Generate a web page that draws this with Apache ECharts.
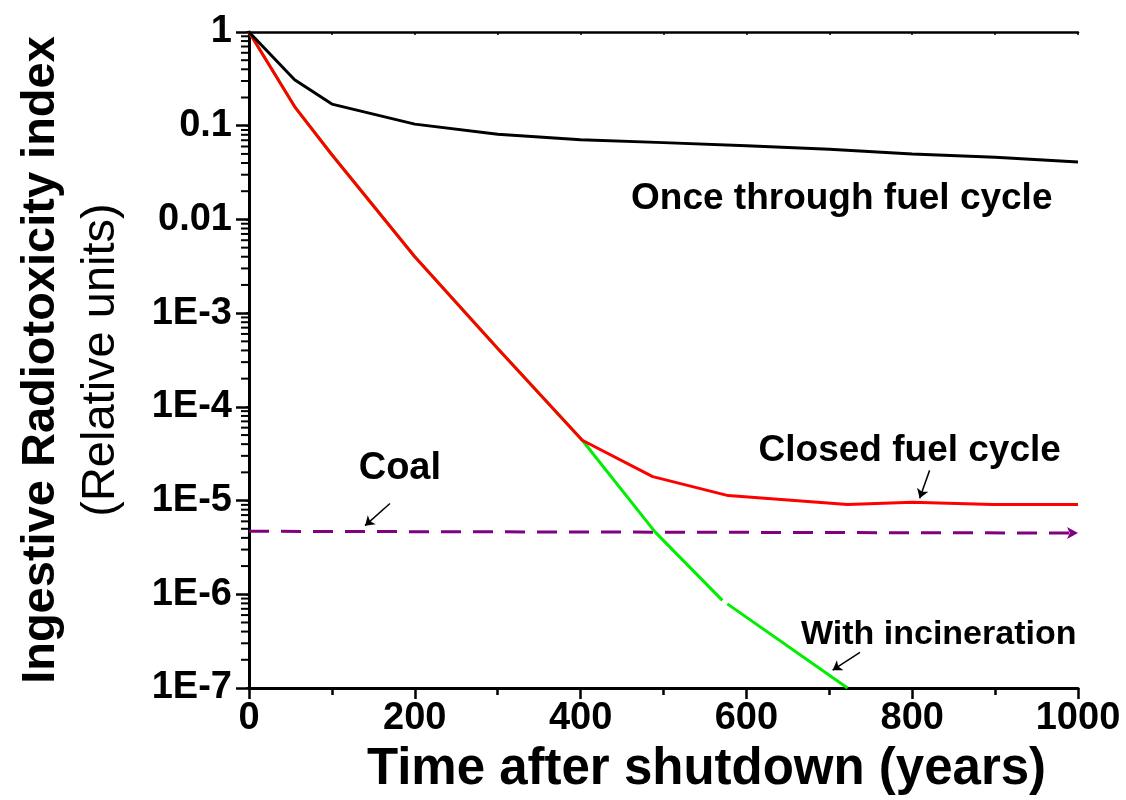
<!DOCTYPE html>
<html>
<head>
<meta charset="utf-8">
<script src="https://cdn.jsdelivr.net/npm/echarts@6/dist/echarts.min.js"></script>
<style>
  html, body { margin: 0; padding: 0; background: #fff; }
  #chart { width: 1126px; height: 800px; }
</style>
</head>
<body>
<div id="chart"></div>
<script>
// values: [years, relative radiotoxicity]
const onceThrough = [[0, 1], [55, 0.31], [100, 0.17], [200, 0.104], [300, 0.081], [400, 0.071], [500, 0.066], [600, 0.061], [700, 0.056], [800, 0.05], [900, 0.046], [1000, 0.041]];
const closedCycle = [[0, 1], [55, 0.16], [100, 0.049], [200, 0.004], [300, 4.2e-4], [402, 4.4e-5], [487, 1.8e-5], [578, 1.13e-5], [722, 9.1e-6], [800, 9.6e-6], [897, 9.1e-6], [1000, 9.1e-6]];
const incineration = [[0, 1], [55, 0.16], [100, 0.049], [200, 0.004], [300, 4.2e-4], [402, 4.4e-5], [490, 4.6e-6], [571, 8.6e-7], '-', [577, 7.9e-7], [722, 1e-7]];
const coal = [[0, 4.7e-6], [1000, 4.5e-6]];

// annotation arrows [from, to]
const coalArrow = [[170, 9.3e-6], [140, 5.4e-6]];
const closedArrow = [[821, 2.1e-5], [809, 1.06e-5]];
const incinArrow = [[737, 2.4e-7], [704, 1.55e-7]];

// text labels, centre positions in data units
const labels = [
  { text: 'Once through fuel cycle', at: [715, 0.0168], size: 37 },
  { text: 'Closed fuel cycle', at: [797, 3.4e-5], size: 37 },
  { text: 'Coal', at: [182, 2.18e-5], size: 38 },
  { text: 'With incineration', at: [832, 3.7e-7], size: 34 }
];

const yMin = 1e-7, yMax = 1;

// log minor ticks 2..9 of each decade
const minorTicks = [];
for (let e = -7; e < 0; e++) {
  for (let m = 2; m <= 9; m++) minorTicks.push(m * Math.pow(10, e));
}

const FONT = '"Liberation Sans", Arial, sans-serif';

function fmtY(v) {
  if (v >= 1) return '1';
  const e = Math.round(Math.log10(v));
  if (e === -1) return '0.1';
  if (e === -2) return '0.01';
  return '1E' + e;
}

const chart = echarts.init(document.getElementById('chart'));

function arrowLine(pair) {
  return [{ coord: pair[0] }, { coord: pair[1] }];
}

const option = {
  animation: false,
  grid: { left: 249, right: 48, top: 32, bottom: 107 },
  xAxis: [{
    type: 'value', min: 0, max: 1000, interval: 200,
    name: 'Time after shutdown (years)', nameLocation: 'middle', nameGap: 56,
    nameTextStyle: { fontFamily: FONT, fontWeight: 'bold', fontSize: 51, color: '#000', padding: [0, 0, 0, 86] },
    axisLine: { lineStyle: { color: '#000', width: 3 } },
    axisTick: { inside: false, length: 11, lineStyle: { width: 2.5 } },
    minorTick: { show: true, splitNumber: 2, length: 7, lineStyle: { color: '#000', width: 2.5 } },
    axisLabel: { fontFamily: FONT, fontWeight: 'bold', fontSize: 38, color: '#000', margin: 12, formatter: v => String(v) },
    splitLine: { show: false }
  }, {
    type: 'value', min: 0, max: 1000, interval: 100, position: 'top',
    axisLine: { show: true, lineStyle: { color: '#000', width: 2.5 } },
    axisTick: { inside: true, length: 3, lineStyle: { width: 1.5 } },
    axisLabel: { show: false },
    splitLine: { show: false }
  }],
  yAxis: [{
    type: 'log', logBase: 10, min: yMin, max: yMax,
    name: '{a|Ingestive Radiotoxicity index}\n{b|(Relative units)}',
    nameLocation: 'middle', nameRotate: 90, nameGap: 118,
    nameTextStyle: {
      rich: {
        a: { fontFamily: FONT, fontWeight: 'bold', fontSize: 47, color: '#000', lineHeight: 60 },
        b: { fontFamily: FONT, fontWeight: 'normal', fontSize: 47, color: '#000', lineHeight: 60 }
      }
    },
    axisLine: { show: true, lineStyle: { color: '#000', width: 3 } },
    axisTick: { inside: false, length: 13, lineStyle: { width: 2.5 } },
    axisLabel: { fontFamily: FONT, fontWeight: 'bold', fontSize: 38, color: '#000', margin: 17, formatter: fmtY },
    splitLine: { show: false }
  }, {
    type: 'log', logBase: 10, min: yMin, max: yMax, position: 'right',
    axisLine: { show: true, lineStyle: { color: '#000', width: 2.5 } },
    axisTick: { inside: true, length: 3, lineStyle: { width: 1.5 } },
    axisLabel: { show: false },
    splitLine: { show: false }
  }],
  series: [
    {
      name: 'Coal', type: 'line', data: coal.map((p, i) => i === coal.length - 1
        ? { value: p, symbol: 'arrow', symbolRotate: -90, symbolSize: [9, 11], itemStyle: { color: '#800080' } }
        : { value: p, symbol: 'none' }),
      lineStyle: { color: '#800080', width: 3, type: [20, 12] },
      z: 2
    },
    {
      name: 'With incineration', type: 'line', data: incineration, symbol: 'none', connectNulls: false,
      lineStyle: { color: '#00ee00', width: 3 }, z: 3,
      markLine: {
        silent: true, symbol: ['none', 'arrow'], symbolSize: 9, label: { show: false },
        lineStyle: { color: '#000', width: 1.5, type: 'solid' },
        data: [arrowLine(coalArrow), arrowLine(closedArrow), arrowLine(incinArrow)]
      }
    },
    {
      name: 'Closed fuel cycle', type: 'line', data: closedCycle, symbol: 'none',
      lineStyle: { color: '#ff0000', width: 3 }, z: 4
    },
    {
      name: 'Once through fuel cycle', type: 'line', data: onceThrough, symbol: 'none',
      lineStyle: { color: '#000', width: 3 }, z: 5
    },
    {
      name: 'minor', type: 'custom', silent: true, clip: false, z: 6,
      data: minorTicks.map(v => [0, v]),
      renderItem: function (params, api) {
        const p = api.coord([api.value(0), api.value(1)]);
        return {
          type: 'line',
          shape: { x1: p[0] - 8, y1: p[1], x2: p[0], y2: p[1] },
          style: { stroke: '#000', lineWidth: 2 }
        };
      }
    }
  ]
};

chart.setOption(option);

// annotation texts positioned through the axes
chart.setOption({
  graphic: labels.map(l => {
    const p = chart.convertToPixel({ gridIndex: 0 }, l.at);
    return {
      type: 'text', x: p[0], y: p[1], silent: true,
      style: {
        text: l.text, fontFamily: FONT, fontWeight: 'bold', fontSize: l.size,
        fill: '#000', align: 'center', verticalAlign: 'middle'
      }
    };
  })
});
</script>
</body>
</html>
